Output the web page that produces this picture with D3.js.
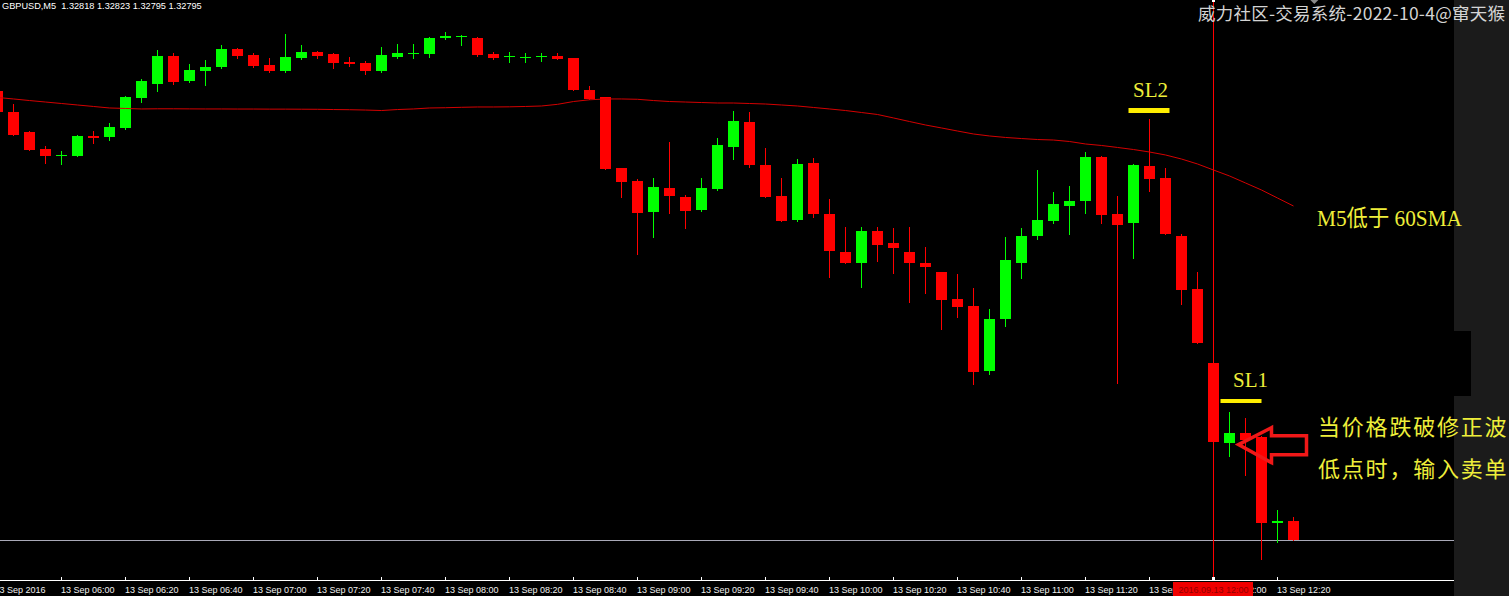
<!DOCTYPE html>
<html><head><meta charset="utf-8">
<script src="https://cdn.jsdelivr.net/npm/d3@7"></script>
<style>html,body{margin:0;padding:0;background:#000;overflow:hidden}svg{display:block}</style>
</head><body>
<svg id="c" width="1509" height="596"></svg>
<script>
// ---- data (GBPUSD, M5, 13 Sep 2016, bars 05:40 .. 12:25) ----
const symbol = "GBPUSD", timeframe = "M5";
const open = [
1.33339,1.33313,1.33289,1.33268,1.33260,1.33260,1.33284,1.33283,1.33294,1.33330,
1.33347,1.33381,1.33351,1.33363,1.33368,1.33389,1.33382,1.33370,1.33363,1.33378,
1.33386,1.33383,1.33374,1.33372,1.33363,1.33380,1.33383,1.33383,1.33403,1.33404,
1.33403,1.33383,1.33380,1.33379,1.33380,1.33381,1.33378,1.33340,1.33331,1.33245,
1.33230,1.33192,1.33221,1.33210,1.33194,1.33220,1.33271,1.33301,1.33249,1.33211,
1.33182,1.33251,1.33190,1.33144,1.33130,1.33169,1.33155,1.33144,1.33130,1.33119,
1.33087,1.33078,1.32999,1.33062,1.33130,1.33163,1.33181,1.33199,1.33205,1.33259,
1.33190,1.33179,1.33248,1.33233,1.33163,1.33099,1.33009,1.32912,1.32925,1.32920,
1.32816,1.32818];
const high = [
1.33342,1.33323,1.33290,1.33272,1.33266,1.33285,1.33290,1.33300,1.33333,1.33353,
1.33388,1.33384,1.33371,1.33376,1.33394,1.33390,1.33384,1.33378,1.33407,1.33394,
1.33387,1.33384,1.33380,1.33375,1.33392,1.33395,1.33395,1.33404,1.33410,1.33406,
1.33404,1.33386,1.33386,1.33384,1.33384,1.33384,1.33378,1.33345,1.33331,1.33245,
1.33232,1.33233,1.33277,1.33213,1.33233,1.33282,1.33314,1.33313,1.33270,1.33233,
1.33256,1.33257,1.33208,1.33174,1.33174,1.33174,1.33173,1.33174,1.33150,1.33120,
1.33117,1.33100,1.33075,1.33162,1.33173,1.33243,1.33216,1.33224,1.33265,1.33260,
1.33211,1.33250,1.33305,1.33245,1.33165,1.33119,1.33009,1.32950,1.32943,1.32921,
1.32831,1.32823];
const low = [
1.33312,1.33285,1.33267,1.33251,1.33250,1.33260,1.33276,1.33279,1.33293,1.33325,
1.33338,1.33347,1.33350,1.33346,1.33366,1.33378,1.33368,1.33362,1.33362,1.33377,
1.33378,1.33366,1.33369,1.33359,1.33362,1.33379,1.33378,1.33380,1.33401,1.33394,
1.33381,1.33377,1.33374,1.33374,1.33375,1.33377,1.33340,1.33329,1.33244,1.33210,
1.33141,1.33162,1.33191,1.33173,1.33193,1.33219,1.33256,1.33247,1.33210,1.33181,
1.33181,1.33186,1.33113,1.33130,1.33101,1.33133,1.33118,1.33083,1.33094,1.33050,
1.33065,1.32984,1.32996,1.33054,1.33112,1.33159,1.33179,1.33165,1.33191,1.33179,
1.32985,1.33136,1.33217,1.33165,1.33081,1.33033,1.32914,1.32897,1.32874,1.32772,
1.32793,1.32795];
const close = [
1.33313,1.33285,1.33267,1.33260,1.33261,1.33284,1.33282,1.33295,1.33331,1.33351,
1.33381,1.33349,1.33364,1.33368,1.33389,1.33381,1.33369,1.33363,1.33380,1.33386,
1.33381,1.33372,1.33371,1.33363,1.33382,1.33384,1.33385,1.33403,1.33405,1.33405,
1.33382,1.33378,1.33381,1.33380,1.33381,1.33377,1.33340,1.33329,1.33244,1.33228,
1.33191,1.33222,1.33211,1.33193,1.33221,1.33273,1.33302,1.33249,1.33210,1.33181,
1.33250,1.33190,1.33145,1.33130,1.33169,1.33152,1.33148,1.33130,1.33125,1.33085,
1.33077,1.32998,1.33062,1.33134,1.33163,1.33182,1.33202,1.33205,1.33259,1.33188,
1.33176,1.33249,1.33232,1.33165,1.33098,1.33033,1.32914,1.32925,1.32916,1.32816,
1.32818,1.32795];
const sma60 = [
1.333307,1.333289,1.333270,1.333252,1.333234,1.333216,1.333198,1.333180,1.333174,1.333168,
1.333170,1.333170,1.333169,1.333168,1.333168,1.333167,1.333167,1.333166,1.333166,1.333165,
1.333164,1.333161,1.333159,1.333155,1.333149,1.333161,1.333168,1.333180,1.333183,1.333188,
1.333192,1.333192,1.333194,1.333198,1.333204,1.333224,1.333258,1.333279,1.333289,1.333289,
1.333285,1.333270,1.333258,1.333252,1.333246,1.333240,1.333240,1.333234,1.333228,1.333216,
1.333204,1.333186,1.333168,1.333149,1.333125,1.333101,1.333059,1.333016,1.332974,1.332938,
1.332901,1.332865,1.332841,1.332823,1.332810,1.332798,1.332792,1.332774,1.332744,1.332726,
1.332702,1.332677,1.332647,1.332611,1.332562,1.332502,1.332429,1.332357,1.332272,1.332187,
1.332090,1.331993];
const tickBars = [0,4,8,12,16,20,24,28,32,36,40,44,48,52,56,60,64,68,72,76,80];
const tickLabels = ["13 Sep 2016","13 Sep 06:00","13 Sep 06:20","13 Sep 06:40","13 Sep 07:00",
 "13 Sep 07:20","13 Sep 07:40","13 Sep 08:00","13 Sep 08:20","13 Sep 08:40","13 Sep 09:00",
 "13 Sep 09:20","13 Sep 09:40","13 Sep 10:00","13 Sep 10:20","13 Sep 10:40","13 Sep 11:00",
 "13 Sep 11:20","13 Sep 11:40","13 Sep 12:00","13 Sep 12:20"];
const cursorBar = 76, cursorLabel = "2016.09.13 12:00";
const title = "威力社区-交易系统-2022-10-4@窜天猴";
const noteTrend = "M5低于 60SMA";
const noteEntry = ["当价格跌破修正波", "低点时，输入卖单"];
const sl2Bar = 72, sl1Bar = 77;

// ---- drawing ----
const W = 1509, H = 596, plotR = 1454, axisY = 580;
const svg = d3.select("#c");
svg.append("rect").attr("width", W).attr("height", H).attr("fill", "#000");
// right price-scale panel
svg.append("rect").attr("x", plotR).attr("y", 0).attr("width", W - plotR).attr("height", H).attr("fill", "#1b1b1b");
svg.append("rect").attr("x", plotR - 1).attr("y", 331).attr("width", 18).attr("height", 65).attr("fill", "#000");

const x = d3.scaleLinear().domain([4, 76]).range([61.5, 1213.5]);
const y = d3.scaleLinear().domain([1.327466, 1.334487]).range([axisY, 0]);

const idx = d3.range(open.length);
const g = svg.append("g");

// bid line
const bid = close[close.length - 1];
g.append("line").attr("x1", 0).attr("x2", plotR).attr("y1", Math.round(y(bid)) + 0.5).attr("y2", Math.round(y(bid)) + 0.5)
 .attr("stroke", "#a9a9b8").attr("stroke-width", 1);

// cursor vertical line (behind candles)
const cx = x(cursorBar);
svg.append("line").attr("x1", cx).attr("x2", cx).attr("y1", 0).attr("y2", axisY - 2)
 .attr("stroke", "#ff0000").attr("stroke-width", 1);

// candles
const col = i => close[i] >= open[i] ? "#00ff00" : "#ff0000";
const cg = svg.append("g");
cg.selectAll("line.wick").data(idx).join("line").attr("class", "wick")
 .attr("x1", i => x(i)).attr("x2", i => x(i))
 .attr("y1", i => Math.round(y(high[i]))).attr("y2", i => Math.round(y(low[i])) + 1)
 .attr("stroke", col).attr("stroke-width", 1);
cg.selectAll("rect.body").data(idx).join("rect").attr("class", "body")
 .attr("x", i => x(i) - 5.5).attr("width", 11)
 .attr("y", i => Math.round(y(Math.max(open[i], close[i]))))
 .attr("height", i => Math.max(1, Math.round(y(Math.min(open[i], close[i]))) - Math.round(y(Math.max(open[i], close[i])))))
 .attr("fill", col);

// 60 SMA
cg.append("path").datum(idx)
 .attr("d", d3.line().x(i => x(i)).y(i => y(sma60[i])))
 .attr("fill", "none").attr("stroke", "#d40000").attr("stroke-width", 1);

svg.append("rect").attr("x", cx - 1.5).attr("y", 0).attr("width", 3).attr("height", 2).attr("fill", "#fff");
svg.append("path").attr("d", `M${x(82.3) - 4},0 L${x(82.3) + 4},0 L${x(82.3)},4 Z`).attr("fill", "#8a8a8a");

// time axis
svg.append("line").attr("x1", 0).attr("x2", plotR).attr("y1", axisY + 0.5).attr("y2", axisY + 0.5)
 .attr("stroke", "#ffffff").attr("stroke-width", 1);
const ticks = svg.append("g");
tickBars.forEach((b, k) => {
  if (k > 0) ticks.append("line").attr("x1", x(b)).attr("x2", x(b)).attr("y1", axisY - 3).attr("y2", axisY)
    .attr("stroke", "#fff").attr("stroke-width", 1);
  ticks.append("text").attr("x", k === 0 ? x(b) - 3 : x(b) - 0.5).attr("y", 593)
    .attr("font-family", "Liberation Sans, Arial, sans-serif").attr("font-size", 9)
    .attr("fill", "#f0f0f0").text(tickLabels[k]);
});
svg.append("rect").attr("x", cx - 40.5).attr("y", 582).attr("width", 80).attr("height", 14).attr("fill", "#f00000");
svg.append("text").attr("x", cx).attr("y", 593).attr("text-anchor", "middle")
 .attr("font-family", "Liberation Sans, Arial, sans-serif").attr("font-size", 9)
 .attr("fill", "#900000").text(cursorLabel);
svg.append("rect").attr("x", cx - 1.5).attr("y", axisY - 3).attr("width", 3).attr("height", 3).attr("fill", "#fff");

// header
const L = open.length - 1;
svg.append("text").attr("x", 2).attr("y", 9).style("white-space", "pre")
 .attr("font-family", "Liberation Sans, Arial, sans-serif").attr("font-size", 9.2).attr("fill", "#fff")
 .text(`${symbol},${timeframe}  ${open[L].toFixed(5)} ${high[L].toFixed(5)} ${low[L].toFixed(5)} ${close[L].toFixed(5)}`);

// title
svg.append("text").attr("x", 1505).attr("y", 20).attr("text-anchor", "end")
 .attr("textLength", 307).attr("lengthAdjust", "spacing")
 .attr("font-family", "Noto Sans CJK SC, sans-serif").attr("font-size", 17.5).attr("fill", "#d4d4d4")
 .text(title);

// annotations
const yellow = "#eeee3a";
svg.append("rect").attr("x", x(sl2Bar) - 21).attr("y", Math.round(y(high[sl2Bar])) - 11).attr("width", 41).attr("height", 5).attr("fill", "#ffee00");
svg.append("text").attr("x", x(sl2Bar) + 1).attr("y", Math.round(y(high[sl2Bar])) - 22).attr("text-anchor", "middle")
 .attr("font-family", "Liberation Serif, serif").attr("font-size", 21).attr("fill", yellow).text("SL2");
svg.append("rect").attr("x", x(sl1Bar) - 9).attr("y", Math.round(y(high[sl1Bar])) - 13).attr("width", 41).attr("height", 4).attr("fill", "#ffee00");
svg.append("text").attr("x", x(sl1Bar) + 21).attr("y", Math.round(y(high[sl1Bar])) - 25).attr("text-anchor", "middle")
 .attr("font-family", "Liberation Serif, serif").attr("font-size", 21).attr("fill", yellow).text("SL1");

svg.append("text").attr("x", 1317).attr("y", 226).attr("textLength", 145).attr("lengthAdjust", "spacingAndGlyphs")
 .style("white-space", "pre")
 .attr("font-family", "Liberation Serif, Noto Sans CJK SC, serif").attr("font-size", 23).attr("fill", yellow).text(noteTrend);
noteEntry.forEach((t, k) => {
  svg.append("text").attr("x", 1318).attr("y", 435 + k * 42)
   .attr("font-family", "Noto Sans CJK SC, sans-serif").attr("font-size", 22).attr("letter-spacing", 1.8)
   .attr("fill", yellow).text(t);
});

// red arrow pointing at the broken low
const ax = x(78) - 7, ay = y(open[78]) + 12;
const arrow = [[ax, ay], [ax + 33, ay - 17], [ax + 33, ay - 9], [ax + 68, ay - 9], [ax + 68, ay + 10], [ax + 33, ay + 10], [ax + 33, ay + 18]];
svg.append("path").attr("d", d3.line()(arrow) + "Z").attr("fill", "none")
 .attr("stroke", "#f01818").attr("stroke-width", 3.5).attr("stroke-linejoin", "miter");
</script>
</body></html>
